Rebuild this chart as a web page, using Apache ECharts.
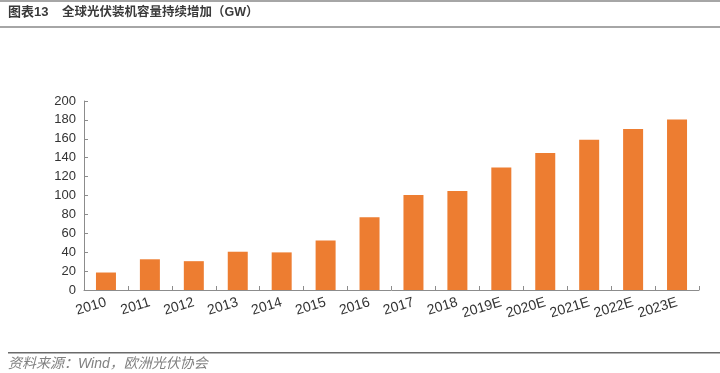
<!DOCTYPE html>
<html>
<head>
<meta charset="utf-8">
<script src="https://cdn.jsdelivr.net/npm/echarts@6/dist/echarts.min.js"></script>
<style>
html,body{margin:0;padding:0;background:#fff;}
#chart{width:720px;height:373px;}
</style>
</head>
<body>
<div id="chart"></div>
<script>
const categories = ['2010','2011','2012','2013','2014','2015','2016','2017','2018','2019E','2020E','2021E','2022E','2023E'];
const capacity = [18.5, 32.5, 30.5, 40.5, 39.8, 52.5, 77, 100.5, 104.8, 129.5, 145, 159, 170.5, 180.5];
const yTicks = {min: 0, max: 200, interval: 20};
const titleLead = '图表13';
const titleText = '全球光伏装机容量持续增加（GW）';
const sourceText = '资料来源：Wind，欧洲光伏协会';

const chart = echarts.init(document.getElementById('chart'));
const font = 'Arial, "Liberation Sans", "Noto Sans CJK SC", sans-serif';
chart.setOption({
  animation: false,
  backgroundColor: '#fff',
  grid: {left: 84, right: 21, top: 101, bottom: 83, containLabel: false},
  xAxis: {
    type: 'category',
    data: categories,
    axisLine: {lineStyle: {color: '#8c8c8c', width: 1}},
    axisTick: {show: true, inside: true, length: 4, lineStyle: {color: '#8c8c8c'}},
    axisLabel: {rotate: 17, margin: 12, fontSize: 14, color: '#333', fontFamily: font, interval: 0}
  },
  yAxis: {
    type: 'value',
    min: yTicks.min, max: yTicks.max, interval: yTicks.interval,
    axisLine: {show: true, lineStyle: {color: '#8c8c8c', width: 1}},
    axisTick: {show: true, inside: true, length: 4, lineStyle: {color: '#8c8c8c'}},
    splitLine: {show: false},
    axisLabel: {fontSize: 13, color: '#333', fontFamily: font, margin: 8}
  },
  series: [{
    type: 'bar',
    data: capacity,
    barWidth: 20,
    itemStyle: {color: '#ED7D31'}
  }],
  graphic: [
    {type: 'rect', shape: {x: 0, y: 0, width: 720, height: 2}, style: {fill: '#a6a6a6'}, silent: true},
    {type: 'rect', shape: {x: 0, y: 26, width: 720, height: 2}, style: {fill: '#a6a6a6'}, silent: true},
    {type: 'text', left: 8, top: 6, style: {text: titleLead, font: 'bold 13px ' + font, fill: '#3a3a3a'}},
    {type: 'text', left: 62, top: 6, style: {text: titleText, font: 'bold 12.5px ' + font, fill: '#3a3a3a'}},
    {type: 'rect', shape: {x: 8, y: 352, width: 712, height: 1.5}, style: {fill: '#6b6b6b'}, silent: true},
    {type: 'text', left: 8, top: 357, style: {text: sourceText, font: 'italic 14px ' + font, fill: '#808080'}}
  ]
});
</script>
</body>
</html>
